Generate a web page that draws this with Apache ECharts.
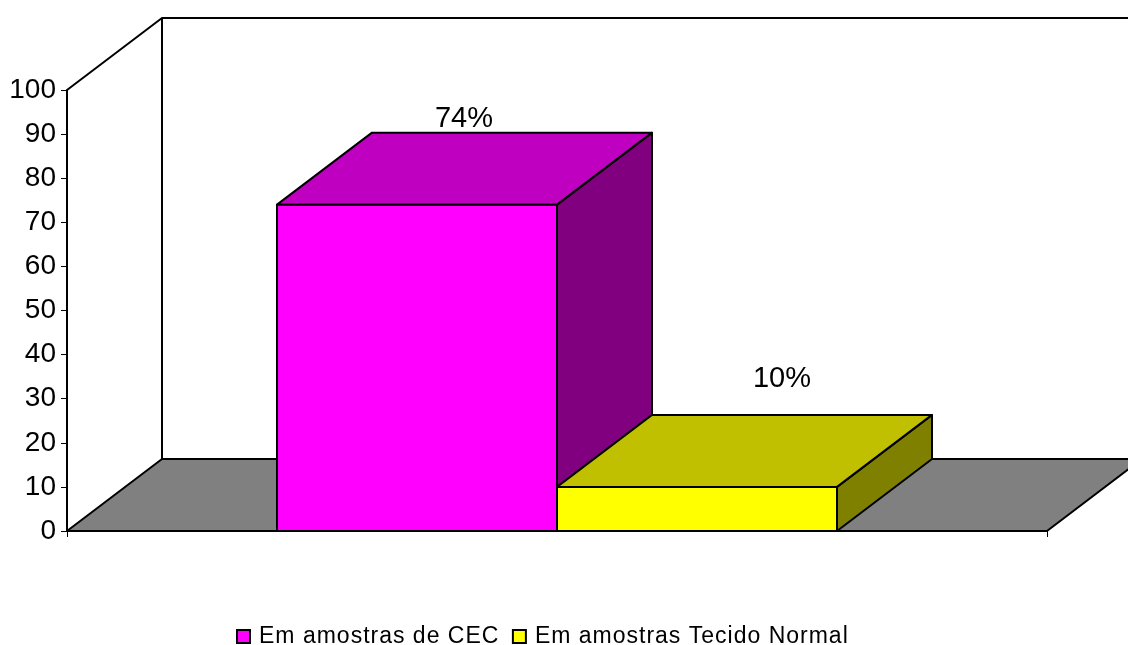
<!DOCTYPE html>
<html>
<head>
<meta charset="utf-8">
<script src="https://cdn.jsdelivr.net/npm/echarts@6/dist/echarts.min.js"></script>
<style>html,body{margin:0;padding:0;background:#fff}#c{width:1128px;height:645px}</style>
</head>
<body>
<div id="c"></div>
<script>
const categories = [''];
const seriesNames = ['Em amostras de CEC', 'Em amostras Tecido Normal'];
const seriesValues = [74, 10];
const valueLabels = ['74%', '10%'];
const yTicks = { min: 0, max: 100, interval: 10 };

const FONT = '"Liberation Sans", Arial, sans-serif';
const DEPTH_X = 95, DEPTH_Y = -72, BAR_SHARE = 2 / 7, LW = 2;
const palette = [
  { front: '#ff00ff', top: '#c000c0', side: '#800080' },
  { front: '#ffff00', top: '#c0c000', side: '#808000' }
];
const labelShift = [[47, -88], [85, -110]];

// The reference legend text is set with wide tracking; canvas text has a native property for it.
const nativeFillText = CanvasRenderingContext2D.prototype.fillText;
CanvasRenderingContext2D.prototype.fillText = function (text, x, y, maxW) {
  const tracked = seriesNames.includes(text);
  if (tracked) this.letterSpacing = '1px';
  if (maxW === undefined) nativeFillText.call(this, text, x, y);
  else nativeFillText.call(this, text, x, y, maxW);
  if (tracked) this.letterSpacing = '0px';
};

function poly(points, fill) {
  return { type: 'polygon', shape: { points }, style: { fill, stroke: '#000', lineWidth: LW, lineJoin: 'round' } };
}

function renderWalls(params, api) {
  const c = api.coord([0, yTicks.min]);
  const t = api.coord([0, yTicks.max]);
  const band = api.size([1, 0])[0];
  const l = c[0] - band / 2, r = c[0] + band / 2, b = c[1], h = t[1];
  return {
    type: 'group',
    children: [
      poly([[l, b], [l + DEPTH_X, b + DEPTH_Y], [r + DEPTH_X, b + DEPTH_Y], [r, b]], '#808080'),
      { type: 'polyline', shape: { points: [[l, h], [l + DEPTH_X, h + DEPTH_Y], [r + DEPTH_X, h + DEPTH_Y]] }, style: { fill: 'none', stroke: '#000', lineWidth: LW, lineJoin: 'round' } },
      { type: 'line', shape: { x1: l + DEPTH_X, y1: h + DEPTH_Y, x2: l + DEPTH_X, y2: b + DEPTH_Y }, style: { stroke: '#000', lineWidth: LW } }
    ]
  };
}

function makeBar(idx) {
  return function (params, api) {
    const base = api.coord([api.value(0), 0]);
    const top = api.coord([api.value(0), api.value(1)]);
    const band = api.size([1, 0])[0];
    const w = band * BAR_SHARE;
    const x0 = base[0] - w + idx * w, x1 = x0 + w, yb = base[1], yt = top[1];
    const col = palette[idx];
    return {
      type: 'group',
      children: [
        poly([[x1, yb], [x1 + DEPTH_X, yb + DEPTH_Y], [x1 + DEPTH_X, yt + DEPTH_Y], [x1, yt]], col.side),
        poly([[x0, yt], [x0 + DEPTH_X, yt + DEPTH_Y], [x1 + DEPTH_X, yt + DEPTH_Y], [x1, yt]], col.top),
        poly([[x0, yb], [x0, yt], [x1, yt], [x1, yb]], col.front),
        { type: 'text', style: {
            text: valueLabels[idx], x: (x0 + x1) / 2 + labelShift[idx][0], y: yt + labelShift[idx][1] + 2,
            align: 'center', verticalAlign: 'middle', font: '29px ' + FONT, fill: '#000' } }
      ]
    };
  };
}

const chart = echarts.init(document.getElementById('c'), null, { renderer: 'canvas' });
chart.setOption({
  animation: false,
  backgroundColor: '#fff',
  grid: { left: 67, right: 81, top: 90, bottom: 114, containLabel: false },
  legend: {
    left: 236, top: 625, itemWidth: 13, itemHeight: 13, itemGap: 30.5, padding: 0,
    textStyle: { fontFamily: FONT, fontSize: 23, color: '#000', padding: [0, 0, 0, 4] },
    selectedMode: false,
    data: seriesNames.map((name, i) => ({
      name, icon: 'rect', itemStyle: { color: palette[i].front, borderColor: '#000', borderWidth: 2 }
    }))
  },
  xAxis: {
    type: 'category', data: categories, z: 5,
    axisLine: { lineStyle: { color: '#000', width: 2 } },
    axisTick: { show: true, length: 6, lineStyle: { color: '#000', width: 1 } },
    axisLabel: { show: false }
  },
  yAxis: {
    type: 'value', min: yTicks.min, max: yTicks.max, interval: yTicks.interval, z: 5,
    axisLine: { show: true, lineStyle: { color: '#000', width: 2 } },
    axisTick: { show: true, length: 6, lineStyle: { color: '#000', width: 1 } },
    axisLabel: { color: '#000', fontFamily: FONT, fontSize: 28, margin: 11, padding: [4, 0, 0, 0] },
    splitLine: { show: false }
  },
  series: [
    { type: 'custom', name: 'walls', silent: true, data: [[0, 0]], renderItem: renderWalls, encode: { x: 0, y: 1 }, z: 1 },
    ...seriesNames.map((name, i) => ({
      type: 'custom', name, data: [[0, seriesValues[i]]], renderItem: makeBar(i), encode: { x: 0, y: 1 }, z: 2 + i,
      itemStyle: { color: palette[i].front }
    }))
  ]
});
</script>
</body>
</html>
